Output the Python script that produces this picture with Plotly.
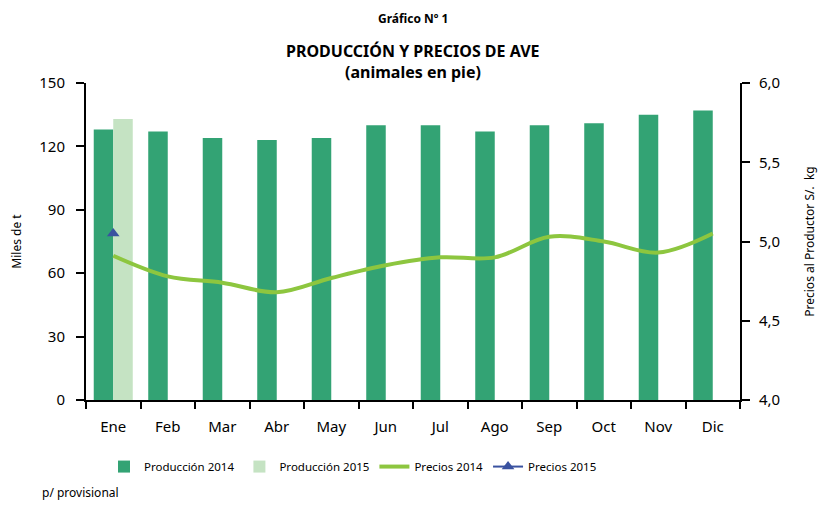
import plotly.graph_objects as go

meses = ["Ene", "Feb", "Mar", "Abr", "May", "Jun", "Jul", "Ago", "Sep", "Oct", "Nov", "Dic"]
produccion_2014 = [128, 127, 124, 123, 124, 130, 130, 127, 130, 131, 135, 137]
produccion_2015 = [133, None, None, None, None, None, None, None, None, None, None, None]
precios_2014 = [4.91, 4.78, 4.74, 4.68, 4.77, 4.85, 4.90, 4.90, 5.03, 5.00, 4.93, 5.05]
precios_2015 = [5.05, None, None, None, None, None, None, None, None, None, None, None]

FONT = "Noto Sans"

# la página agrega 8px de margen, así que la figura se achica y se corre
W, H = 810, 493
ML, MT, PW, PH = 78, 75, 654, 317

fig = go.Figure()

fig.add_trace(go.Bar(x=meses, y=produccion_2014, name="Producción 2014",
                     marker_color="#33A374", marker_line_width=0))
fig.add_trace(go.Bar(x=meses, y=produccion_2015, name="Producción 2015",
                     marker_color="#C5E3C3", marker_line_width=0))
fig.add_trace(go.Scatter(x=meses, y=precios_2014, name="Precios 2014", yaxis="y2",
                         mode="lines", line=dict(color="#8DC63F", width=4, shape="spline")))
fig.add_trace(go.Scatter(x=meses, y=precios_2015, name="Precios 2015", yaxis="y2",
                         mode="lines+markers", line=dict(color="#3A52A0", width=2),
                         marker=dict(symbol="triangle-up", size=11, color="#3A52A0")))

fig.update_layout(
    width=W, height=H,
    margin=dict(l=ML, r=W - ML - PW, t=MT, b=H - MT - PH, autoexpand=False),
    plot_bgcolor="white", paper_bgcolor="white",
    font=dict(family=FONT, size=14, color="black"),
    separators=",.",
    barmode="group", bargap=0.284, bargroupgap=0,
    showlegend=True,
    legend=dict(orientation="h", x=(104 - 8 - ML) / PW, xanchor="left", y=-0.21,
                yanchor="middle", font=dict(size=11.5), traceorder="normal", itemwidth=30),
    xaxis=dict(range=[-0.5, len(meses) - 0.5], showline=True, linecolor="black", linewidth=2,
               ticks="outside", tickson="boundaries", ticklen=7, tickwidth=2, tickcolor="black",
               tickfont=dict(size=15), showgrid=False, ticklabelstandoff=12,
               automargin=False),
    yaxis=dict(range=[0, 150], dtick=30, showline=True, linecolor="black", linewidth=2,
               ticks="outside", ticklen=8, tickwidth=2, tickcolor="black",
               tickfont=dict(size=15), showgrid=False, zeroline=False, ticklabelstandoff=8,
               automargin=False,
               title=dict(text="Miles de t", font=dict(size=12), standoff=22)),
    yaxis2=dict(range=[4, 6], dtick=0.5, tickformat=".1f", overlaying="y", side="right",
                showline=True, linecolor="black", linewidth=2, ticks="outside",
                ticklen=8, tickwidth=2, tickcolor="black", tickfont=dict(size=15),
                showgrid=False, zeroline=False, ticklabelstandoff=6, automargin=False,
                title=dict(text="Precios al Productor S/.  kg", font=dict(size=12), standoff=30)),
)


def py(px_y):
    # posición vertical en pixeles de la página -> fracción del área del gráfico
    return (MT + PH - (px_y - 8)) / PH


fig.add_annotation(text="<b>Gráfico Nº 1</b>", xref="paper", yref="paper", x=0.5,
                   y=py(19), yanchor="middle", showarrow=False, font=dict(size=12))
fig.add_annotation(text="<b>PRODUCCIÓN Y PRECIOS DE AVE</b>", xref="paper", yref="paper",
                   x=0.5, y=py(51), yanchor="middle", showarrow=False, font=dict(size=16))
fig.add_annotation(text="<b>(animales en pie)</b>", xref="paper", yref="paper",
                   x=0.5, y=py(72), yanchor="middle", showarrow=False, font=dict(size=16))
fig.add_annotation(text="p/ provisional", xref="paper", yref="paper",
                   x=(40 - 8 - ML) / PW, xanchor="left", y=py(492), yanchor="middle",
                   showarrow=False, font=dict(size=12))

fig.write_html("out.html")
